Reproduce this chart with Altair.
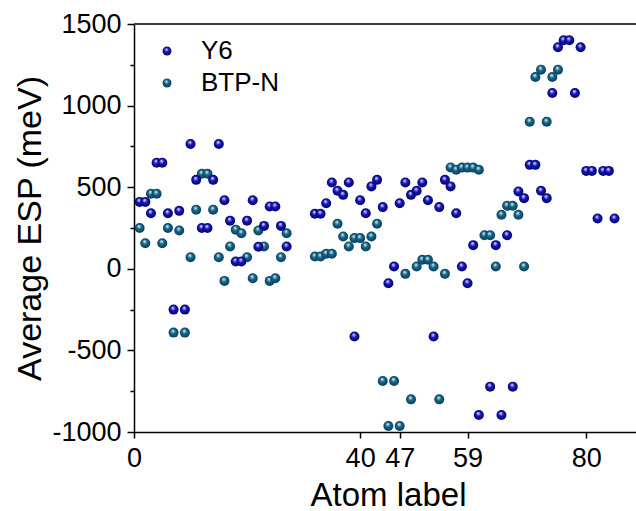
import altair as alt
import pandas as pd

# ---- data ----
y6_atoms = list(range(1, 28)) + list(range(32, 62)) + list(range(63, 86))
y6_esp = [410, 410, 340, 650, 650, 340, -250, 355, -250, 765, 545, 250, 250, 545, 765,
          420, 295, 45, 45, 295, 420, 135, 263, 382, 382, 263, 137,
          337, 337, 402, 529, 478, 453, 529, -415, 420, 340, 505, 545, 378, -88, 14,
          402, 529, 453, 478, 529, 420, -415, 378, 545, 505, 340, 14, -88, 145, -896,
          -722, 145, -896, 206, -722, 474, 433, 637, 637, 478, 433, 1077, 1357, 1400,
          1400, 1077, 1357, 600, 600, 308, 600, 600, 308]

btp_atoms = list(range(1, 28)) + list(range(32, 76))
btp_esp = [250, 157, 460, 460, 157, 250, -391, 235, -391, 71, 362, 582, 582, 362, 71,
           -74, 137, 240, 218, 71, -58, 235, 137, -74, -58, 71, 218,
           75, 75, 92, 92, 276, 198, 137, 188, 188, 137, 198, 276, -687, -963, -687,
           -963, -31, -800, 14, 55, 55, 14, -800, -31, 621, 607, 620, 620, 620, 607,
           206, 206, 14, 331, 386, 386, 331, 14, 901, 1175, 1220, 901, 1175, 1220]

series_names = ["Y6", "BTP-N"]
x_ticks = [0, 40, 47, 59, 80]
y_ticks = list(range(-1000, 1501, 250))

df = pd.concat([
    pd.DataFrame({"atom": y6_atoms, "esp": y6_esp, "series": "Y6"}),
    pd.DataFrame({"atom": btp_atoms, "esp": btp_esp, "series": "BTP-N"}),
], ignore_index=True)

FONT = "Liberation Sans"


def ball(body, edge, mid):
    return ("{gradient: 'radial', x1: 0.42, y1: 0.3, r1: 0, x2: 0.5, y2: 0.5, r2: 0.56, "
            "stops: [{offset: 0, color: '#ffffff'}, {offset: 0.18, color: '%s'}, "
            "{offset: 0.42, color: '%s'}, {offset: 1, color: '%s'}]}" % (mid, body, edge))


grad_y6 = ball("#1616b2", "#00006a", "#9a9aee")
grad_btp = ball("#156488", "#073a55", "#96c0d2")

color_scale = alt.Scale(domain=series_names,
                        range=[{"expr": grad_y6}, {"expr": grad_btp}])

x_enc = alt.X("atom:Q",
              scale=alt.Scale(domain=[0, 88.8], nice=False, zero=False),
              axis=alt.Axis(values=x_ticks, title="Atom label", grid=False,
                            labelExpr="'' + datum.value",
                            labelFont=FONT, labelFontSize=27, labelColor="black",
                            labelPadding=7, labelFlush=False, labelOverlap=False,
                            tickSize=6, tickWidth=1.5, tickColor="black",
                            domainColor="black", domainWidth=1.5,
                            titleFont=FONT, titleFontSize=33, titleFontWeight="normal",
                            titleColor="black", titleX=254, titleY=73,
                            titleBaseline="alphabetic", titleAlign="center"))

y_enc = alt.Y("esp:Q",
              scale=alt.Scale(domain=[-1000, 1500], nice=False, zero=False),
              axis=alt.Axis(values=y_ticks, title="Average ESP (meV)", grid=False,
                            labelExpr="datum.value % 500 === 0 ? '' + datum.value : ''",
                            labelFont=FONT, labelFontSize=27, labelColor="black",
                            labelPadding=6, labelFlush=False, labelOverlap=False,
                            tickSize={"condition": {"test": "datum.value % 500 === 0", "value": 7},
                                      "value": 4},
                            tickWidth=1.5, tickColor="black",
                            domainColor="black", domainWidth=1.5,
                            titleFont=FONT, titleFontSize=34, titleFontWeight="normal",
                            titleColor="black", titleAngle=270, titleX=-94, titleY=204,
                            titleBaseline="alphabetic", titleAlign="center"))

points = alt.Chart(df).mark_circle(size=100, opacity=1, strokeWidth=0).encode(
    x=x_enc,
    y=y_enc,
    color=alt.Color("series:N", scale=color_scale,
                    legend=alt.Legend(title=None, orient="none", legendX=20, legendY=14,
                                      symbolType="circle", symbolSize=80,
                                      symbolStrokeWidth=0, symbolOpacity=1,
                                      labelFont=FONT, labelFontSize=26,
                                      labelColor="black", labelOffset=21,
                                      rowPadding=6, padding=0)),
    order=alt.Order("series:N", sort="ascending"),
)

top_border = alt.Chart(pd.DataFrame({"v": [1500]})).mark_rule(
    color="#3c3c3c", strokeWidth=2).encode(y=alt.Y("v:Q"))

chart = alt.layer(points, top_border).properties(
    width=502, height=408,
    autosize=alt.AutoSizeParams(type="none"),
    padding={"left": 134, "top": 24, "right": 0, "bottom": 79},
).configure_view(stroke=None).configure(background="white")

chart.save("out.html", embed_options={"renderer": "svg", "actions": False})
